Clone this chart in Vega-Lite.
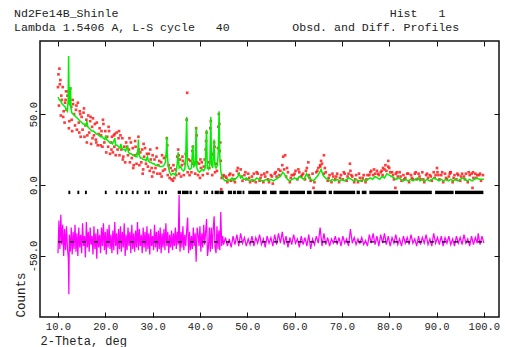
{
  "$schema": "https://vega.github.io/schema/vega-lite/v6.json",
  "autosize": "none",
  "width": 459,
  "height": 276,
  "padding": {"left": 40, "top": 41, "right": 6, "bottom": 30},
  "background": "white",
  "config": {
    "view": {"stroke": "#111", "strokeWidth": 1.5},
    "axis": {"labelFont": "Liberation Mono", "titleFont": "Liberation Mono", "labelColor": "#222", "titleColor": "#222", "tickColor": "#111"}
  },
  "title": {
    "text": ["Nd2Fe14B_Shinle\u00a0\u00a0\u00a0\u00a0\u00a0\u00a0\u00a0\u00a0\u00a0\u00a0\u00a0\u00a0\u00a0\u00a0\u00a0\u00a0\u00a0\u00a0\u00a0\u00a0\u00a0\u00a0\u00a0\u00a0\u00a0\u00a0\u00a0\u00a0\u00a0\u00a0\u00a0\u00a0\u00a0\u00a0\u00a0\u00a0\u00a0\u00a0\u00a0Hist\u00a0\u00a0\u00a01", "Lambda 1.5406 A, L-S cycle\u00a0\u00a0\u00a040\u00a0\u00a0\u00a0\u00a0\u00a0\u00a0\u00a0\u00a0\u00a0Obsd. and Diff. Profiles"],
    "anchor": "start",
    "frame": "group",
    "dx": -26,
    "offset": 7,
    "font": "Liberation Mono",
    "fontSize": 11.6,
    "fontWeight": "normal",
    "lineHeight": 14,
    "color": "#222"
  },
  "datasets": {
    "obs": [
      {"tt":10.0,"v":69},{"tt":10.2,"v":56},{"tt":10.4,"v":71},{"tt":10.6,"v":49},{"tt":10.8,"v":60},{"tt":11.0,"v":69},{"tt":11.2,"v":52},{"tt":11.4,"v":44},{"tt":11.6,"v":60},{"tt":11.8,"v":53},
      {"tt":12.0,"v":63},{"tt":12.2,"v":66},{"tt":12.4,"v":45},{"tt":12.6,"v":68},{"tt":12.8,"v":55},{"tt":13.0,"v":38},{"tt":13.2,"v":57},{"tt":13.4,"v":50},{"tt":13.6,"v":42},{"tt":13.8,"v":53},
      {"tt":14.0,"v":39},{"tt":14.2,"v":58},{"tt":14.4,"v":44},{"tt":14.6,"v":52},{"tt":14.8,"v":34},{"tt":15.0,"v":48},{"tt":15.2,"v":39},{"tt":15.4,"v":51},{"tt":15.6,"v":34},{"tt":15.8,"v":42},
      {"tt":16.0,"v":46},{"tt":16.2,"v":35},{"tt":16.4,"v":49},{"tt":16.6,"v":37},{"tt":16.8,"v":45},{"tt":17.0,"v":29},{"tt":17.2,"v":41},{"tt":17.4,"v":47},{"tt":17.6,"v":35},{"tt":17.8,"v":43},
      {"tt":18.0,"v":32},{"tt":18.2,"v":44},{"tt":18.4,"v":28},{"tt":18.6,"v":36},{"tt":18.8,"v":40},{"tt":19.0,"v":28},{"tt":19.2,"v":38},{"tt":19.4,"v":27},{"tt":19.6,"v":43},{"tt":19.8,"v":30},
      {"tt":20.0,"v":38},{"tt":20.2,"v":23},{"tt":20.4,"v":34},{"tt":20.6,"v":27},{"tt":20.8,"v":38},{"tt":21.0,"v":22},{"tt":21.2,"v":30},{"tt":21.4,"v":34},{"tt":21.6,"v":23},{"tt":21.8,"v":35},
      {"tt":22.0,"v":36},{"tt":22.2,"v":21},{"tt":22.4,"v":37},{"tt":22.6,"v":25},{"tt":22.8,"v":33},{"tt":23.0,"v":21},{"tt":23.2,"v":35},{"tt":23.4,"v":25},{"tt":23.6,"v":33},{"tt":23.8,"v":20},
      {"tt":24.0,"v":27},{"tt":24.2,"v":16},{"tt":24.4,"v":30},{"tt":24.6,"v":27},{"tt":24.8,"v":21},{"tt":25.0,"v":25},{"tt":25.2,"v":16},{"tt":25.4,"v":30},{"tt":25.6,"v":19},{"tt":25.8,"v":26},
      {"tt":26.0,"v":14},{"tt":26.2,"v":21},{"tt":26.4,"v":27},{"tt":26.6,"v":15},{"tt":26.8,"v":22},{"tt":27.0,"v":34},{"tt":27.2,"v":14},{"tt":27.4,"v":23},{"tt":27.6,"v":16},{"tt":27.8,"v":25},
      {"tt":28.0,"v":11},{"tt":28.2,"v":20},{"tt":28.4,"v":26},{"tt":28.6,"v":15},{"tt":28.8,"v":22},{"tt":29.0,"v":13},{"tt":29.2,"v":22},{"tt":29.4,"v":10},{"tt":29.6,"v":18},{"tt":29.8,"v":12},
      {"tt":30.0,"v":21},{"tt":30.2,"v":9},{"tt":30.4,"v":18},{"tt":30.6,"v":12},{"tt":30.8,"v":20},{"tt":31.0,"v":8},{"tt":31.2,"v":14},{"tt":31.4,"v":17},{"tt":31.6,"v":8},{"tt":31.8,"v":16},
      {"tt":32.0,"v":21},{"tt":32.2,"v":10},{"tt":32.4,"v":19},{"tt":32.6,"v":11},{"tt":32.8,"v":20},{"tt":33.0,"v":33},{"tt":33.2,"v":7},{"tt":33.4,"v":14},{"tt":33.6,"v":5},{"tt":33.8,"v":12},
      {"tt":34.0,"v":4},{"tt":34.2,"v":10},{"tt":34.4,"v":14},{"tt":34.6,"v":5},{"tt":34.8,"v":11},{"tt":35.0,"v":7},{"tt":35.2,"v":20},{"tt":35.4,"v":25},{"tt":35.6,"v":8},{"tt":35.8,"v":18},
      {"tt":36.0,"v":6},{"tt":36.2,"v":14},{"tt":36.4,"v":17},{"tt":36.6,"v":7},{"tt":36.8,"v":15},{"tt":37.0,"v":22},{"tt":37.2,"v":46},{"tt":37.4,"v":9},{"tt":37.6,"v":18},{"tt":37.8,"v":7},
      {"tt":38.0,"v":17},{"tt":38.2,"v":9},{"tt":38.4,"v":24},{"tt":38.6,"v":15},{"tt":38.8,"v":16},{"tt":39.0,"v":8},{"tt":39.2,"v":40},{"tt":39.4,"v":16},{"tt":39.6,"v":7},{"tt":39.8,"v":15},
      {"tt":40.0,"v":5},{"tt":40.2,"v":12},{"tt":40.4,"v":16},{"tt":40.6,"v":7},{"tt":40.8,"v":13},{"tt":41.0,"v":18},{"tt":41.2,"v":25},{"tt":41.4,"v":37},{"tt":41.6,"v":8},{"tt":41.8,"v":16},
      {"tt":42.0,"v":12},{"tt":42.2,"v":40},{"tt":42.4,"v":21},{"tt":42.6,"v":7},{"tt":42.8,"v":22},{"tt":43.0,"v":30},{"tt":43.2,"v":9},{"tt":43.4,"v":15},{"tt":43.6,"v":10},{"tt":43.8,"v":26},
      {"tt":44.0,"v":50},{"tt":44.2,"v":24},{"tt":44.4,"v":17},{"tt":44.6,"v":5},{"tt":44.8,"v":6},{"tt":45.0,"v":7},
      {"tt":10.1,"v":78},{"tt":10.3,"v":82},{"tt":10.5,"v":74},{"tt":10.7,"v":63},{"tt":11.1,"v":48},{"tt":11.7,"v":66},{"tt":12.3,"v":40},{"tt":13.1,"v":60},{"tt":13.9,"v":56},{"tt":14.5,"v":37},
      {"tt":15.5,"v":54},{"tt":16.1,"v":30},{"tt":16.9,"v":48},{"tt":18.1,"v":30},{"tt":19.5,"v":46},{"tt":20.7,"v":41},{"tt":21.3,"v":25},{"tt":22.9,"v":38},{"tt":23.7,"v":18},{"tt":25.1,"v":33},
      {"tt":26.3,"v":31},{"tt":27.1,"v":25},{"tt":28.1,"v":29},{"tt":29.5,"v":25},{"tt":30.9,"v":26},{"tt":31.9,"v":6},{"tt":33.1,"v":28},{"tt":34.3,"v":3},{"tt":35.5,"v":21},{"tt":36.3,"v":20},
      {"tt":37.3,"v":65},{"tt":38.5,"v":27},{"tt":39.3,"v":35},{"tt":40.1,"v":18},{"tt":41.3,"v":31},{"tt":42.3,"v":45},{"tt":43.1,"v":27},{"tt":43.9,"v":41},{"tt":44.1,"v":43},{"tt":44.3,"v":30},
      {"tt":44.5,"v":-3},{"tt":25.9,"v":12},{"tt":27.9,"v":8},{"tt":29.9,"v":6},{"tt":11.5,"v":58},{"tt":12.9,"v":46},{"tt":14.7,"v":50},{"tt":17.3,"v":33},{"tt":19.1,"v":35},{"tt":21.9,"v":27},
      {"tt":45.4,"v":6},{"tt":45.8,"v":2},{"tt":46.2,"v":7},{"tt":46.6,"v":3},{"tt":47.0,"v":7},{"tt":47.4,"v":2},{"tt":47.8,"v":10},{"tt":48.2,"v":8},{"tt":48.6,"v":11},{"tt":49.0,"v":3},
      {"tt":49.4,"v":7},{"tt":49.8,"v":4},{"tt":50.2,"v":8},{"tt":50.6,"v":2},{"tt":51.0,"v":6},{"tt":51.4,"v":8},{"tt":51.8,"v":2},{"tt":52.2,"v":8},{"tt":52.6,"v":3},{"tt":53.0,"v":7},
      {"tt":53.4,"v":2},{"tt":53.8,"v":6},{"tt":54.2,"v":9},{"tt":54.6,"v":2},{"tt":55.0,"v":7},{"tt":55.4,"v":1},{"tt":55.8,"v":8},{"tt":56.2,"v":6},{"tt":56.6,"v":11},{"tt":57.0,"v":10},
      {"tt":57.4,"v":14},{"tt":57.8,"v":11},{"tt":58.2,"v":6},{"tt":58.6,"v":9},{"tt":59.0,"v":2},{"tt":59.4,"v":7},{"tt":59.8,"v":7},{"tt":60.2,"v":10},{"tt":60.6,"v":4},{"tt":61.0,"v":9},
      {"tt":61.4,"v":6},{"tt":61.8,"v":8},{"tt":62.2,"v":4},{"tt":62.6,"v":12},{"tt":63.0,"v":7},{"tt":63.4,"v":3},{"tt":63.8,"v":8},{"tt":64.2,"v":2},{"tt":64.6,"v":9},{"tt":65.0,"v":12},
      {"tt":65.4,"v":13},{"tt":65.8,"v":15},{"tt":66.2,"v":8},{"tt":66.6,"v":9},{"tt":67.0,"v":3},{"tt":67.4,"v":7},{"tt":67.8,"v":2},{"tt":68.2,"v":6},{"tt":68.6,"v":4},{"tt":69.0,"v":8},
      {"tt":69.4,"v":2},{"tt":69.8,"v":7},{"tt":70.2,"v":4},{"tt":70.6,"v":8},{"tt":71.0,"v":3},{"tt":71.4,"v":8},{"tt":71.8,"v":10},{"tt":72.2,"v":6},{"tt":72.6,"v":2},{"tt":73.0,"v":7},
      {"tt":73.4,"v":2},{"tt":73.8,"v":5},{"tt":74.2,"v":3},{"tt":74.6,"v":7},{"tt":75.0,"v":2},{"tt":75.4,"v":7},{"tt":75.8,"v":7},{"tt":76.2,"v":10},{"tt":76.6,"v":7},{"tt":77.0,"v":8},
      {"tt":77.4,"v":10},{"tt":77.8,"v":7},{"tt":78.2,"v":9},{"tt":78.6,"v":7},{"tt":79.0,"v":11},{"tt":79.4,"v":10},{"tt":79.8,"v":13},{"tt":80.2,"v":9},{"tt":80.6,"v":9},{"tt":81.0,"v":4},
      {"tt":81.4,"v":8},{"tt":81.8,"v":6},{"tt":82.2,"v":9},{"tt":82.6,"v":3},{"tt":83.0,"v":7},{"tt":83.4,"v":5},{"tt":83.8,"v":8},{"tt":84.2,"v":2},{"tt":84.6,"v":7},{"tt":85.0,"v":4},
      {"tt":85.4,"v":8},{"tt":85.8,"v":4},{"tt":86.2,"v":8},{"tt":86.6,"v":4},{"tt":87.0,"v":9},{"tt":87.4,"v":2},{"tt":87.8,"v":7},{"tt":88.2,"v":5},{"tt":88.6,"v":7},{"tt":89.0,"v":3},
      {"tt":89.4,"v":9},{"tt":89.8,"v":7},{"tt":90.2,"v":9},{"tt":90.6,"v":4},{"tt":91.0,"v":7},{"tt":91.4,"v":2},{"tt":91.8,"v":8},{"tt":92.2,"v":4},{"tt":92.6,"v":6},{"tt":93.0,"v":9},
      {"tt":93.4,"v":2},{"tt":93.8,"v":7},{"tt":94.2,"v":4},{"tt":94.6,"v":7},{"tt":95.0,"v":3},{"tt":95.4,"v":8},{"tt":95.8,"v":6},{"tt":96.2,"v":8},{"tt":96.6,"v":2},{"tt":97.0,"v":7},
      {"tt":97.4,"v":8},{"tt":97.8,"v":5},{"tt":98.2,"v":8},{"tt":98.6,"v":7},{"tt":99.0,"v":7},{"tt":99.4,"v":3},{"tt":99.8,"v":7},
      {"tt":45.6,"v":5},{"tt":46.4,"v":8},{"tt":47.2,"v":4},{"tt":48.0,"v":12},{"tt":48.8,"v":6},{"tt":49.6,"v":9},{"tt":50.4,"v":5},{"tt":51.2,"v":3},{"tt":52.0,"v":9},{"tt":52.8,"v":5},
      {"tt":53.6,"v":8},{"tt":54.4,"v":4},{"tt":55.2,"v":6},{"tt":56.0,"v":9},{"tt":56.8,"v":7},{"tt":57.6,"v":20},{"tt":58.0,"v":21},{"tt":58.4,"v":12},{"tt":59.2,"v":5},{"tt":60.0,"v":8},
      {"tt":60.8,"v":11},{"tt":61.6,"v":7},{"tt":62.4,"v":10},{"tt":62.9,"v":16},{"tt":63.2,"v":5},{"tt":64.0,"v":-2},{"tt":64.8,"v":10},{"tt":65.4,"v":14},{"tt":65.6,"v":17},{"tt":66.2,"v":21},
      {"tt":66.4,"v":12},{"tt":67.2,"v":5},{"tt":68.0,"v":8},{"tt":68.8,"v":6},{"tt":69.6,"v":5},{"tt":70.4,"v":9},{"tt":71.2,"v":6},{"tt":71.7,"v":15},{"tt":72.0,"v":7},{"tt":72.8,"v":4},
      {"tt":73.6,"v":8},{"tt":74.4,"v":5},{"tt":75.2,"v":4},{"tt":76.0,"v":9},{"tt":76.8,"v":11},{"tt":77.6,"v":8},{"tt":78.4,"v":10},{"tt":78.7,"v":12},{"tt":79.2,"v":14},{"tt":79.8,"v":17},
      {"tt":80.0,"v":12},{"tt":80.8,"v":7},{"tt":81.3,"v":-2},{"tt":81.6,"v":9},{"tt":82.4,"v":6},{"tt":83.2,"v":4},{"tt":84.0,"v":8},{"tt":84.8,"v":5},{"tt":85.6,"v":9},{"tt":86.4,"v":6},
      {"tt":87.2,"v":4},{"tt":88.0,"v":8},{"tt":88.8,"v":6},{"tt":89.6,"v":5},{"tt":90.1,"v":12},{"tt":90.4,"v":7},{"tt":91.2,"v":9},{"tt":92.0,"v":5},{"tt":92.8,"v":8},{"tt":92.9,"v":9},
      {"tt":93.6,"v":5},{"tt":94.4,"v":8},{"tt":95.2,"v":6},{"tt":96.0,"v":4},{"tt":96.8,"v":9},{"tt":97.6,"v":-2},{"tt":97.7,"v":9},{"tt":98.4,"v":5},{"tt":99.2,"v":8}
    ],
    "calc": [
      {"tt":10.0,"v":62},{"tt":10.3,"v":60},{"tt":10.6,"v":59},{"tt":10.9,"v":57},{"tt":11.2,"v":56},{"tt":11.5,"v":55},{"tt":11.8,"v":53},{"tt":12.0,"v":52},{"tt":12.15,"v":60},{"tt":12.25,"v":91},
      {"tt":12.35,"v":58},{"tt":12.5,"v":56},{"tt":12.65,"v":69},{"tt":12.75,"v":55},{"tt":12.9,"v":51},{"tt":13.2,"v":50},{"tt":13.5,"v":49},{"tt":13.8,"v":48},{"tt":14.1,"v":47},{"tt":14.4,"v":46},
      {"tt":14.7,"v":45},{"tt":15.0,"v":44},{"tt":15.3,"v":43},{"tt":15.6,"v":43},{"tt":15.9,"v":42},{"tt":16.1,"v":45},{"tt":16.3,"v":41},{"tt":16.6,"v":40},{"tt":16.9,"v":39},{"tt":17.2,"v":38},
      {"tt":17.5,"v":38},{"tt":17.8,"v":37},{"tt":18.1,"v":36},{"tt":18.4,"v":36},{"tt":18.7,"v":35},{"tt":19.0,"v":34},{"tt":19.3,"v":34},{"tt":19.6,"v":33},{"tt":19.9,"v":32},{"tt":20.1,"v":35},
      {"tt":20.3,"v":32},{"tt":20.6,"v":31},{"tt":20.9,"v":30},{"tt":21.2,"v":30},{"tt":21.5,"v":29},{"tt":21.8,"v":31},{"tt":22.0,"v":33},{"tt":22.2,"v":28},{"tt":22.5,"v":28},{"tt":22.8,"v":27},
      {"tt":23.1,"v":26},{"tt":23.3,"v":29},{"tt":23.5,"v":26},{"tt":23.8,"v":25},{"tt":24.1,"v":25},{"tt":24.3,"v":24},{"tt":24.5,"v":26},{"tt":24.7,"v":27},{"tt":24.9,"v":23},{"tt":25.2,"v":22},
      {"tt":25.5,"v":22},{"tt":25.8,"v":21},{"tt":26.1,"v":21},{"tt":26.4,"v":20},{"tt":26.7,"v":20},{"tt":26.9,"v":25},{"tt":27.0,"v":32},{"tt":27.1,"v":22},{"tt":27.4,"v":19},{"tt":27.7,"v":19},
      {"tt":28.0,"v":18},{"tt":28.3,"v":18},{"tt":28.6,"v":17},{"tt":28.9,"v":20},{"tt":29.1,"v":17},{"tt":29.4,"v":16},{"tt":29.7,"v":16},{"tt":30.0,"v":15},{"tt":30.3,"v":15},{"tt":30.6,"v":14},
      {"tt":30.9,"v":14},{"tt":31.2,"v":14},{"tt":31.5,"v":13},{"tt":31.8,"v":13},{"tt":32.1,"v":13},{"tt":32.4,"v":14},{"tt":32.7,"v":16},{"tt":32.9,"v":25},{"tt":33.0,"v":34},{"tt":33.1,"v":22},
      {"tt":33.3,"v":13},{"tt":33.6,"v":9},{"tt":33.9,"v":7},{"tt":34.2,"v":8},{"tt":34.5,"v":8},{"tt":34.8,"v":7},{"tt":35.0,"v":10},{"tt":35.2,"v":15},{"tt":35.4,"v":23},{"tt":35.6,"v":12},
      {"tt":35.9,"v":13},{"tt":36.2,"v":11},{"tt":36.5,"v":10},{"tt":36.8,"v":11},{"tt":37.0,"v":20},{"tt":37.2,"v":48},{"tt":37.35,"v":15},{"tt":37.6,"v":12},{"tt":37.9,"v":11},{"tt":38.2,"v":12},
      {"tt":38.5,"v":28},{"tt":38.7,"v":13},{"tt":39.0,"v":14},{"tt":39.2,"v":41},{"tt":39.35,"v":12},{"tt":39.6,"v":10},{"tt":39.9,"v":9},{"tt":40.2,"v":10},{"tt":40.5,"v":11},{"tt":40.8,"v":10},
      {"tt":41.1,"v":12},{"tt":41.4,"v":39},{"tt":41.55,"v":12},{"tt":41.8,"v":11},{"tt":42.1,"v":15},{"tt":42.3,"v":48},{"tt":42.45,"v":14},{"tt":42.7,"v":12},{"tt":43.0,"v":32},{"tt":43.15,"v":14},
      {"tt":43.4,"v":12},{"tt":43.7,"v":14},{"tt":43.9,"v":25},{"tt":44.05,"v":52},{"tt":44.2,"v":20},{"tt":44.4,"v":10},{"tt":44.6,"v":7},{"tt":44.8,"v":5},{"tt":45.0,"v":4},{"tt":45.3,"v":3},
      {"tt":45.6,"v":3},{"tt":45.9,"v":4},{"tt":46.2,"v":3},{"tt":46.5,"v":4},{"tt":46.8,"v":5},{"tt":47.1,"v":3},{"tt":47.4,"v":4},{"tt":47.7,"v":5},{"tt":48.0,"v":6},{"tt":48.3,"v":8},
      {"tt":48.6,"v":5},{"tt":48.9,"v":6},{"tt":49.2,"v":4},{"tt":49.5,"v":4},{"tt":49.8,"v":5},{"tt":50.1,"v":4},{"tt":50.5,"v":3},{"tt":51.0,"v":4},{"tt":51.5,"v":3},{"tt":52.0,"v":5},
      {"tt":52.5,"v":4},{"tt":53.0,"v":3},{"tt":53.5,"v":3},{"tt":54.0,"v":4},{"tt":54.5,"v":3},{"tt":55.0,"v":4},{"tt":55.5,"v":3},{"tt":56.0,"v":4},{"tt":56.5,"v":5},{"tt":57.0,"v":6},
      {"tt":57.5,"v":9},{"tt":58.0,"v":7},{"tt":58.5,"v":4},{"tt":59.0,"v":3},{"tt":59.5,"v":4},{"tt":60.0,"v":5},{"tt":60.5,"v":4},{"tt":61.0,"v":6},{"tt":61.5,"v":5},{"tt":62.0,"v":4},
      {"tt":62.5,"v":8},{"tt":63.0,"v":5},{"tt":63.5,"v":4},{"tt":64.0,"v":3},{"tt":64.5,"v":5},{"tt":65.0,"v":7},{"tt":65.3,"v":9},{"tt":65.6,"v":11},{"tt":66.0,"v":7},{"tt":66.5,"v":5},
      {"tt":67.0,"v":4},{"tt":67.5,"v":3},{"tt":68.0,"v":4},{"tt":68.5,"v":3},{"tt":69.0,"v":4},{"tt":69.5,"v":3},{"tt":70.0,"v":4},{"tt":70.5,"v":3},{"tt":71.0,"v":4},{"tt":71.5,"v":5},
      {"tt":72.0,"v":4},{"tt":72.5,"v":3},{"tt":73.0,"v":4},{"tt":73.5,"v":3},{"tt":74.0,"v":3},{"tt":74.5,"v":4},{"tt":75.0,"v":3},{"tt":75.5,"v":4},{"tt":76.0,"v":5},{"tt":76.5,"v":4},
      {"tt":77.0,"v":6},{"tt":77.5,"v":5},{"tt":78.0,"v":4},{"tt":78.5,"v":6},{"tt":79.0,"v":5},{"tt":79.5,"v":8},{"tt":80.0,"v":7},{"tt":80.5,"v":6},{"tt":81.0,"v":5},{"tt":81.5,"v":4},
      {"tt":82.0,"v":5},{"tt":82.5,"v":4},{"tt":83.0,"v":3},{"tt":83.5,"v":4},{"tt":84.0,"v":3},{"tt":84.5,"v":4},{"tt":85.0,"v":3},{"tt":85.5,"v":4},{"tt":86.0,"v":5},{"tt":86.5,"v":3},
      {"tt":87.0,"v":4},{"tt":87.5,"v":3},{"tt":88.0,"v":4},{"tt":88.5,"v":3},{"tt":89.0,"v":4},{"tt":89.5,"v":5},{"tt":90.0,"v":4},{"tt":90.5,"v":3},{"tt":91.0,"v":4},{"tt":91.5,"v":3},
      {"tt":92.0,"v":4},{"tt":92.5,"v":3},{"tt":93.0,"v":4},{"tt":93.5,"v":3},{"tt":94.0,"v":4},{"tt":94.5,"v":3},{"tt":95.0,"v":4},{"tt":95.5,"v":5},{"tt":96.0,"v":4},{"tt":96.5,"v":3},
      {"tt":97.0,"v":4},{"tt":97.5,"v":3},{"tt":98.0,"v":4},{"tt":98.5,"v":5},{"tt":99.0,"v":4},{"tt":99.5,"v":4},{"tt":100.0,"v":4}
    ],
    "diff": [
      {"tt":10.0,"v":-48},{"tt":10.2,"v":-25},{"tt":10.4,"v":-45},{"tt":10.6,"v":-21},{"tt":10.8,"v":-42},{"tt":11.0,"v":-28},{"tt":11.2,"v":-50},{"tt":11.4,"v":-31},{"tt":11.6,"v":-46},{"tt":11.8,"v":-29},
      {"tt":12.0,"v":-44},{"tt":12.2,"v":-52},{"tt":12.3,"v":-77},{"tt":12.4,"v":-35},{"tt":12.6,"v":-47},{"tt":12.8,"v":-30},{"tt":13.0,"v":-49},{"tt":13.2,"v":-33},{"tt":13.4,"v":-45},{"tt":13.6,"v":-28},
      {"tt":13.8,"v":-47},{"tt":14.0,"v":-34},{"tt":14.2,"v":-50},{"tt":14.4,"v":-30},{"tt":14.6,"v":-44},{"tt":14.8,"v":-35},{"tt":15.0,"v":-48},{"tt":15.2,"v":-27},{"tt":15.4,"v":-43},{"tt":15.6,"v":-36},
      {"tt":15.8,"v":-51},{"tt":16.0,"v":-26},{"tt":16.2,"v":-44},{"tt":16.4,"v":-33},{"tt":16.6,"v":-47},{"tt":16.8,"v":-30},{"tt":17.0,"v":-42},{"tt":17.2,"v":-36},{"tt":17.4,"v":-49},{"tt":17.6,"v":-29},
      {"tt":17.8,"v":-45},{"tt":18.0,"v":-34},{"tt":18.2,"v":-52},{"tt":18.4,"v":-31},{"tt":18.6,"v":-44},{"tt":18.8,"v":-35},{"tt":19.0,"v":-48},{"tt":19.2,"v":-30},{"tt":19.4,"v":-43},{"tt":19.6,"v":-27},
      {"tt":19.8,"v":-46},{"tt":20.0,"v":-33},{"tt":20.2,"v":-49},{"tt":20.4,"v":-31},{"tt":20.6,"v":-44},{"tt":20.8,"v":-28},{"tt":21.0,"v":-45},{"tt":21.2,"v":-35},{"tt":21.4,"v":-48},{"tt":21.6,"v":-32},
      {"tt":21.8,"v":-46},{"tt":22.0,"v":-26},{"tt":22.2,"v":-43},{"tt":22.4,"v":-34},{"tt":22.6,"v":-49},{"tt":22.8,"v":-31},{"tt":23.0,"v":-45},{"tt":23.2,"v":-29},{"tt":23.4,"v":-47},{"tt":23.6,"v":-33},
      {"tt":23.8,"v":-44},{"tt":24.0,"v":-27},{"tt":24.2,"v":-50},{"tt":24.4,"v":-35},{"tt":24.6,"v":-46},{"tt":24.8,"v":-30},{"tt":25.0,"v":-43},{"tt":25.2,"v":-33},{"tt":25.4,"v":-48},{"tt":25.6,"v":-28},
      {"tt":25.8,"v":-45},{"tt":26.0,"v":-34},{"tt":26.2,"v":-47},{"tt":26.4,"v":-32},{"tt":26.6,"v":-44},{"tt":26.8,"v":-26},{"tt":27.0,"v":-46},{"tt":27.2,"v":-31},{"tt":27.4,"v":-43},{"tt":27.6,"v":-35},
      {"tt":27.8,"v":-48},{"tt":28.0,"v":-30},{"tt":28.2,"v":-44},{"tt":28.4,"v":-33},{"tt":28.6,"v":-47},{"tt":28.8,"v":-29},{"tt":29.0,"v":-45},{"tt":29.2,"v":-34},{"tt":29.4,"v":-49},{"tt":29.6,"v":-31},
      {"tt":29.8,"v":-43},{"tt":30.0,"v":-36},{"tt":30.2,"v":-46},{"tt":30.4,"v":-28},{"tt":30.6,"v":-44},{"tt":30.8,"v":-33},{"tt":31.0,"v":-47},{"tt":31.2,"v":-32},{"tt":31.4,"v":-45},{"tt":31.6,"v":-30},
      {"tt":31.8,"v":-48},{"tt":32.0,"v":-34},{"tt":32.2,"v":-44},{"tt":32.4,"v":-31},{"tt":32.6,"v":-46},{"tt":32.8,"v":-27},{"tt":33.0,"v":-43},{"tt":33.2,"v":-33},{"tt":33.4,"v":-48},{"tt":33.6,"v":-35},
      {"tt":33.8,"v":-44},{"tt":34.0,"v":-32},{"tt":34.2,"v":-46},{"tt":34.4,"v":-34},{"tt":34.6,"v":-43},{"tt":34.8,"v":-30},{"tt":35.0,"v":-45},{"tt":35.2,"v":-33},{"tt":35.4,"v":-42},{"tt":35.6,"v":-7},
      {"tt":35.7,"v":-40},{"tt":35.8,"v":-47},{"tt":36.0,"v":-33},{"tt":36.2,"v":-44},{"tt":36.4,"v":-29},{"tt":36.6,"v":-46},{"tt":36.8,"v":-35},{"tt":37.0,"v":-43},{"tt":37.2,"v":-32},{"tt":37.4,"v":-23},
      {"tt":37.6,"v":-48},{"tt":37.8,"v":-33},{"tt":38.0,"v":-46},{"tt":38.2,"v":-36},{"tt":38.4,"v":-45},{"tt":38.6,"v":-30},{"tt":38.8,"v":-43},{"tt":39.0,"v":-34},{"tt":39.2,"v":-54},{"tt":39.4,"v":-30},
      {"tt":39.6,"v":-35},{"tt":39.8,"v":-43},{"tt":40.0,"v":-29},{"tt":40.2,"v":-47},{"tt":40.4,"v":-34},{"tt":40.6,"v":-44},{"tt":40.8,"v":-28},{"tt":41.0,"v":-42},{"tt":41.2,"v":-33},{"tt":41.4,"v":-24},
      {"tt":41.6,"v":-50},{"tt":41.8,"v":-44},{"tt":42.0,"v":-30},{"tt":42.2,"v":-47},{"tt":42.4,"v":-30},{"tt":42.6,"v":-45},{"tt":42.8,"v":-31},{"tt":43.0,"v":-22},{"tt":43.2,"v":-44},{"tt":43.4,"v":-48},
      {"tt":43.6,"v":-29},{"tt":43.8,"v":-45},{"tt":44.0,"v":-32},{"tt":44.2,"v":-46},{"tt":44.4,"v":-19},{"tt":44.6,"v":-43},{"tt":44.8,"v":-36},{"tt":45.0,"v":-42},
      {"tt":45.4,"v":-37},{"tt":45.8,"v":-43},{"tt":46.2,"v":-38},{"tt":46.6,"v":-44},{"tt":47.0,"v":-36},{"tt":47.4,"v":-42},{"tt":47.8,"v":-35},{"tt":48.2,"v":-43},{"tt":48.6,"v":-34},{"tt":49.0,"v":-41},
      {"tt":49.4,"v":-37},{"tt":49.8,"v":-43},{"tt":50.2,"v":-38},{"tt":50.6,"v":-42},{"tt":51.0,"v":-36},{"tt":51.4,"v":-43},{"tt":51.8,"v":-37},{"tt":52.2,"v":-41},{"tt":52.6,"v":-35},{"tt":53.0,"v":-42},
      {"tt":53.4,"v":-38},{"tt":53.8,"v":-44},{"tt":54.2,"v":-36},{"tt":54.6,"v":-41},{"tt":55.0,"v":-37},{"tt":55.4,"v":-43},{"tt":55.8,"v":-35},{"tt":56.2,"v":-42},{"tt":56.6,"v":-34},{"tt":57.0,"v":-41},
      {"tt":57.4,"v":-33},{"tt":57.8,"v":-42},{"tt":58.2,"v":-36},{"tt":58.6,"v":-44},{"tt":59.0,"v":-37},{"tt":59.4,"v":-42},{"tt":59.8,"v":-35},{"tt":60.2,"v":-41},{"tt":60.6,"v":-38},{"tt":61.0,"v":-44},
      {"tt":61.4,"v":-36},{"tt":61.8,"v":-42},{"tt":62.2,"v":-37},{"tt":62.6,"v":-43},{"tt":63.0,"v":-35},{"tt":63.4,"v":-45},{"tt":63.8,"v":-38},{"tt":64.2,"v":-42},{"tt":64.6,"v":-36},{"tt":65.0,"v":-41},
      {"tt":65.4,"v":-30},{"tt":65.8,"v":-43},{"tt":66.2,"v":-34},{"tt":66.6,"v":-42},{"tt":67.0,"v":-37},{"tt":67.4,"v":-43},{"tt":67.8,"v":-38},{"tt":68.2,"v":-41},{"tt":68.6,"v":-36},{"tt":69.0,"v":-42},
      {"tt":69.4,"v":-37},{"tt":69.8,"v":-43},{"tt":70.2,"v":-36},{"tt":70.6,"v":-41},{"tt":71.0,"v":-38},{"tt":71.4,"v":-43},{"tt":71.8,"v":-31},{"tt":72.2,"v":-41},{"tt":72.6,"v":-37},{"tt":73.0,"v":-42},
      {"tt":73.4,"v":-38},{"tt":73.8,"v":-41},{"tt":74.2,"v":-37},{"tt":74.6,"v":-42},{"tt":75.0,"v":-39},{"tt":75.4,"v":-43},{"tt":75.8,"v":-35},{"tt":76.2,"v":-41},{"tt":76.6,"v":-34},{"tt":77.0,"v":-42},
      {"tt":77.4,"v":-36},{"tt":77.8,"v":-43},{"tt":78.2,"v":-35},{"tt":78.6,"v":-41},{"tt":79.0,"v":-34},{"tt":79.4,"v":-42},{"tt":79.8,"v":-36},{"tt":80.2,"v":-43},{"tt":80.6,"v":-37},{"tt":81.0,"v":-41},
      {"tt":81.4,"v":-35},{"tt":81.8,"v":-42},{"tt":82.2,"v":-38},{"tt":82.6,"v":-43},{"tt":83.0,"v":-36},{"tt":83.4,"v":-41},{"tt":83.8,"v":-37},{"tt":84.2,"v":-42},{"tt":84.6,"v":-35},{"tt":85.0,"v":-41},
      {"tt":85.4,"v":-38},{"tt":85.8,"v":-43},{"tt":86.2,"v":-36},{"tt":86.6,"v":-42},{"tt":87.0,"v":-37},{"tt":87.4,"v":-41},{"tt":87.8,"v":-35},{"tt":88.2,"v":-42},{"tt":88.6,"v":-38},{"tt":89.0,"v":-43},
      {"tt":89.4,"v":-34},{"tt":89.8,"v":-41},{"tt":90.2,"v":-37},{"tt":90.6,"v":-42},{"tt":91.0,"v":-36},{"tt":91.4,"v":-43},{"tt":91.8,"v":-37},{"tt":92.2,"v":-41},{"tt":92.6,"v":-36},{"tt":93.0,"v":-42},
      {"tt":93.4,"v":-38},{"tt":93.8,"v":-43},{"tt":94.2,"v":-36},{"tt":94.6,"v":-41},{"tt":95.0,"v":-37},{"tt":95.4,"v":-42},{"tt":95.8,"v":-35},{"tt":96.2,"v":-41},{"tt":96.6,"v":-38},{"tt":97.0,"v":-43},
      {"tt":97.4,"v":-36},{"tt":97.8,"v":-42},{"tt":98.2,"v":-37},{"tt":98.6,"v":-41},{"tt":98.8,"v":-34},{"tt":99.2,"v":-42},{"tt":99.6,"v":-36},{"tt":100.0,"v":-41}
    ],
    "refl": [
      {"a":12.2,"b":12.6},{"a":14.1,"b":14.5},{"a":15.7,"b":16.1},{"a":19.9,"b":20.3},{"a":22.2,"b":22.6},{"a":23.3,"b":23.7},{"a":24.3,"b":24.7},{"a":25.6,"b":26.0},{"a":26.6,"b":27.0},{"a":28.3,"b":28.7},
      {"a":29.0,"b":29.4},{"a":31.2,"b":31.6},{"a":31.8,"b":32.2},{"a":32.6,"b":33.0},{"a":35.3,"b":36.0},{"a":36.2,"b":37.6},{"a":37.8,"b":38.3},{"a":39.1,"b":39.5},{"a":40.8,"b":41.2},{"a":41.3,"b":41.7},
      {"a":42.4,"b":42.8},{"a":43.1,"b":44.0},{"a":44.1,"b":45.0},{"a":45.9,"b":46.8},{"a":47.0,"b":47.6},{"a":47.8,"b":48.8},{"a":49.0,"b":49.4},{"a":50.2,"b":52.7},{"a":53.1,"b":54.1},{"a":54.8,"b":56.2},
      {"a":56.8,"b":58.7},{"a":59.0,"b":62.2},{"a":62.6,"b":63.6},{"a":64.0,"b":66.7},{"a":67.2,"b":67.9},{"a":68.2,"b":72.8},{"a":73.1,"b":73.8},{"a":74.2,"b":75.2},{"a":75.8,"b":81.9},{"a":82.3,"b":89.0},
      {"a":89.7,"b":93.6},{"a":93.9,"b":99.9}
    ]
  },
  "layer": [
    {
      "data": {"name": "obs"},
      "mark": {"type": "square", "size": 7, "color": "#ff1a1a", "opacity": 0.85},
      "encoding": {
        "x": {"field": "tt", "type": "quantitative", "scale": {"domain": [6.2, 103.2], "nice": false, "zero": false},
          "axis": {"orient": "bottom", "values": [10,20,30,40,50,60,70,80,90,100], "format": ".1f", "domain": false, "grid": false, "tickSize": -5, "labelFontSize": 10.5, "labelPadding": 9, "labelFlush": false,
            "title": "2-Theta, deg", "titleFontSize": 12, "titleFontWeight": "normal", "titleAlign": "left", "titleAnchor": "start", "titleX": 0, "titleY": 23, "titleBaseline": "middle"}},
        "y": {"field": "v", "type": "quantitative", "scale": {"domain": [-93, 101.5], "nice": false, "zero": false},
          "axis": {"orient": "left", "values": [-50, 0, 50], "labelExpr": "replace(format(datum.value, '.1f'), '\u2212', '-')", "domain": false, "grid": false, "tickSize": -5, "labelFontSize": 10.5, "labelAngle": -90, "labelAlign": "center", "labelBaseline": "bottom", "labelPadding": 7, "labelFlush": false,
            "title": "Counts", "titleFontSize": 12.5, "titleFontWeight": "normal", "titleAngle": -90, "titleAlign": "left", "titleBaseline": "middle", "titleX": -20, "titleY": 276}}
      }
    },
    {
      "data": {"name": "calc"},
      "mark": {"type": "line", "color": "#00ee00", "strokeWidth": 1.5},
      "encoding": {
        "x": {"field": "tt", "type": "quantitative", "axis": null},
        "y": {"field": "v", "type": "quantitative", "axis": null}
      }
    },
    {
      "data": {"name": "refl"},
      "mark": {"type": "rect", "color": "black"},
      "encoding": {
        "x": {"field": "a", "type": "quantitative", "axis": null},
        "x2": {"field": "b"},
        "y": {"datum": -6.4, "type": "quantitative", "axis": null},
        "y2": {"datum": -4.0}
      }
    },
    {
      "data": {"name": "diff"},
      "mark": {"type": "line", "color": "#ff00ff", "strokeWidth": 1.25},
      "encoding": {
        "x": {"field": "tt", "type": "quantitative",
          "axis": {"orient": "top", "values": [10,20,30,40,50,60,70,80,90,100], "labels": false, "domain": false, "grid": false, "tickSize": -5, "title": null}},
        "y": {"field": "v", "type": "quantitative",
          "axis": {"orient": "right", "values": [-50, 0, 50], "labels": false, "domain": false, "grid": false, "tickSize": -5, "title": null}}
      }
    },
    {
      "data": {"values": [{}]},
      "mark": {"type": "rule", "color": "black", "strokeWidth": 1.3, "strokeDash": [4, 8]},
      "encoding": {
        "x": {"datum": 10, "type": "quantitative", "axis": null},
        "x2": {"datum": 100},
        "y": {"datum": -40, "type": "quantitative", "axis": null}
      }
    }
  ],
  "resolve": {"axis": {"x": "independent", "y": "independent"}}
}
